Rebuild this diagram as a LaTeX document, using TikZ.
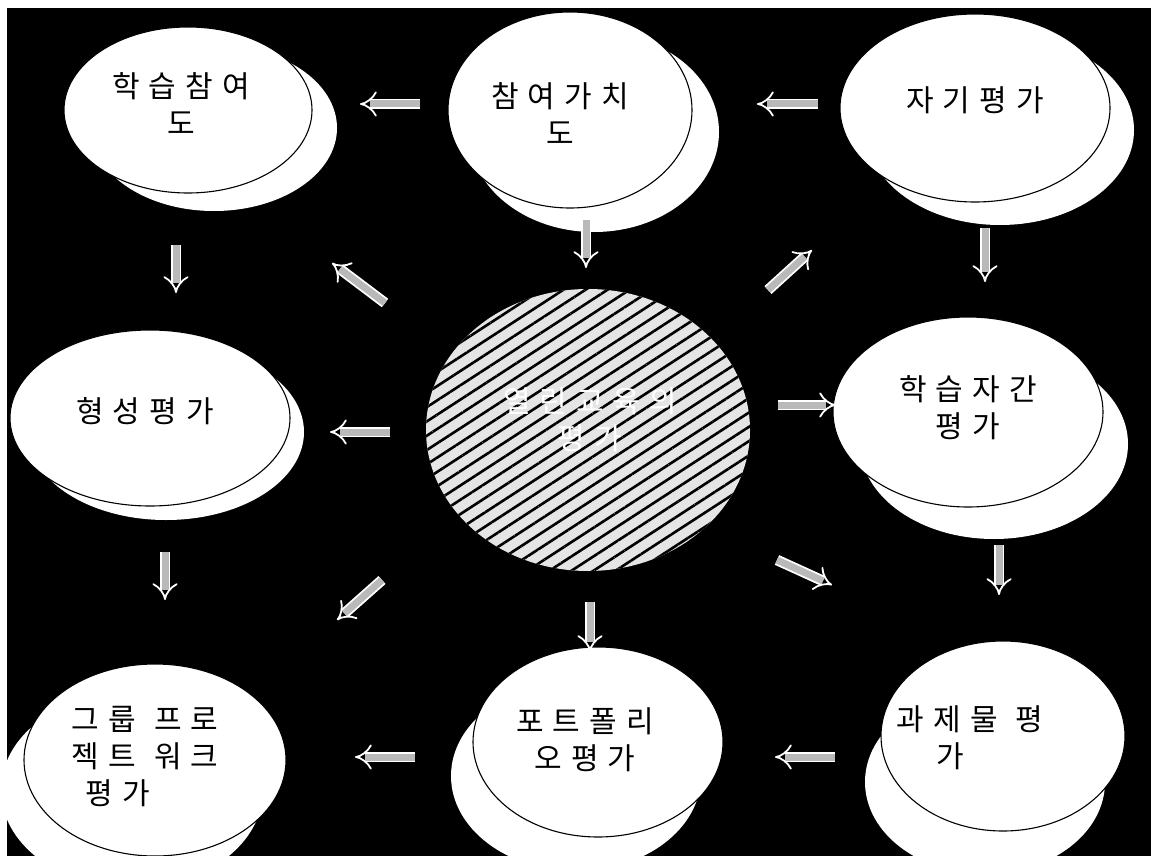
\documentclass[tikz,border=0pt]{standalone}
\usepackage{fontspec}
\newfontfamily\kr{Noto Sans CJK KR}
\usetikzlibrary{arrows.meta,patterns.meta,shapes.geometric}
\newcommand{\gp}{\hspace{9pt}}
\begin{document}
\begin{tikzpicture}[x=1pt,y=-1pt,
  shadowell/.style={ellipse,fill=white,draw=none,inner sep=0pt},
  mainell/.style={ellipse,fill=white,draw=black,line width=1.1pt,inner sep=0pt},
  lbl/.style={font=\kr\fontsize{30}{37}\selectfont,text=black,align=center,inner sep=0pt},
  blk/.style={draw=white,line width=1.8pt,double=gray!55,double distance=7pt,-{Implies}},
]
\useasboundingbox (0,0) rectangle (1151,856);
\clip (0,0) rectangle (1151,856);
\fill[white] (0,0) rectangle (1151,856);
\fill[black] (7,8) rectangle (1151,856);

% shadows
\node[shadowell,minimum width=246,minimum height=166] (s1) at (214,128) {};
\node[shadowell,minimum width=250,minimum height=200] (s2) at (594,132) {};
\node[shadowell,minimum width=268,minimum height=190] (s3) at (1000,130) {};
\node[shadowell,minimum width=276,minimum height=176] (s4) at (166,432) {};
\node[shadowell,minimum width=268,minimum height=190] (s5) at (994,444) {};
\node[shadowell,minimum width=262,minimum height=196] (s6) at (132,790) {};
\node[shadowell,minimum width=250,minimum height=190] (s7) at (576,776) {};
\node[shadowell,minimum width=240,minimum height=184] (s8) at (985,782) {};

% main ellipses
\node[mainell,minimum width=248,minimum height=166] (e1) at (188,110) {};
\node[mainell,minimum width=244,minimum height=196] (e2) at (570,110) {};
\node[mainell,minimum width=270,minimum height=188] (e3) at (975,108) {};
\node[mainell,minimum width=280,minimum height=176] (e4) at (150,418) {};
\node[mainell,minimum width=270,minimum height=190] (e5) at (968,412) {};
\node[mainell,minimum width=262,minimum height=192] (e6) at (155,760) {};
\node[mainell,minimum width=250,minimum height=190] (e7) at (598,742) {};
\node[mainell,minimum width=244,minimum height=190] (e8) at (1003,736) {};

% centre
\node[ellipse,minimum width=324,minimum height=282,draw=none,
  preaction={fill=gray!20},
  pattern={Lines[angle=33,distance=12pt,line width=2.6pt]},pattern color=black] (c) at (588,430) {};
\node[lbl,text=white] (tc) at (590,420) {열\gp 린\gp 교\gp 육\gp 의\\평\gp 가};

% labels
\node[lbl] (t1) at (181,104) {학\gp 습\gp 참\gp 여\\도};
\node[lbl] (t2) at (560,114) {참\gp 여\gp 가\gp 치\\도};
\node[lbl] (t3) at (975,100) {자\gp 기\gp 평\gp 가};
\node[lbl] (t4) at (145,411) {형\gp 성\gp 평\gp 가};
\node[lbl] (t5) at (968,408) {학\gp 습\gp 자\gp 간\\평\gp 가};
\node[lbl,align=left] (t6) at (145,757) {그\gp 룹\gp\gp 프\gp 로\\젝\gp 트\gp\gp 워\gp 크\\\hspace{14pt}평\gp 가};
\node[lbl] (t7) at (585,740) {포\gp 트\gp 폴\gp 리\\오\gp 평\gp 가};
\node[lbl,align=left] (t8) at (970,738) {과\gp 제\gp 물\gp\gp 평\\\hspace{40pt}가};

% arrow end points
\coordinate (p1s) at (420,104); \coordinate (p1e) at (360,104);
\coordinate (p2s) at (818,104); \coordinate (p2e) at (757,104);
\coordinate (p3s) at (176,245); \coordinate (p3e) at (176,293);
\coordinate (p4s) at (385,303); \coordinate (p4e) at (332,263);
\coordinate (p5s) at (586,220); \coordinate (p5e) at (586,268);
\coordinate (p6s) at (768,290); \coordinate (p6e) at (812,250);
\coordinate (p7s) at (985,228); \coordinate (p7e) at (985,282);
\coordinate (p8s) at (390,432); \coordinate (p8e) at (330,432);
\coordinate (p9s) at (778,405); \coordinate (p9e) at (836,405);
\coordinate (p10s) at (165,552); \coordinate (p10e) at (165,600);
\coordinate (p11s) at (382,580); \coordinate (p11e) at (337,620);
\coordinate (p12s) at (590,602); \coordinate (p12e) at (590,652);
\coordinate (p13s) at (777,560); \coordinate (p13e) at (832,585);
\coordinate (p14s) at (999,545); \coordinate (p14e) at (999,595);
\coordinate (p15s) at (415,757); \coordinate (p15e) at (355,757);
\coordinate (p16s) at (835,757); \coordinate (p16e) at (775,757);

\draw[blk] (p1s) -- (p1e);
\draw[blk] (p2s) -- (p2e);
\draw[blk] (p3s) -- (p3e);
\draw[blk] (p4s) -- (p4e);
\draw[blk] (p5s) -- (p5e);
\draw[blk] (p6s) -- (p6e);
\draw[blk] (p7s) -- (p7e);
\draw[blk] (p8s) -- (p8e);
\draw[blk] (p9s) -- (p9e);
\draw[blk] (p10s) -- (p10e);
\draw[blk] (p11s) -- (p11e);
\draw[blk] (p12s) -- (p12e);
\draw[blk] (p13s) -- (p13e);
\draw[blk] (p14s) -- (p14e);
\draw[blk] (p15s) -- (p15e);
\draw[blk] (p16s) -- (p16e);
\end{tikzpicture}
\end{document}
